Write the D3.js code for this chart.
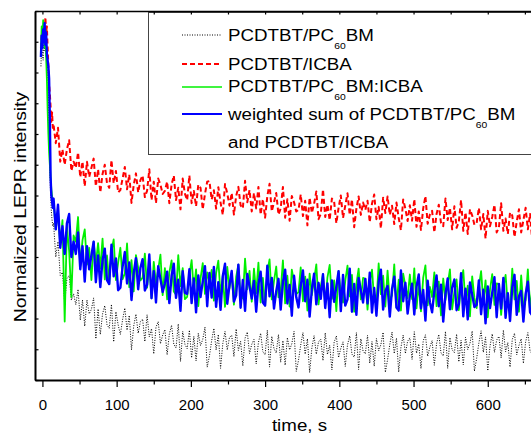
<!DOCTYPE html>
<html lang="en">
<head>
<meta charset="UTF-8">
<title>LEPR decay</title>
<script src="https://cdn.jsdelivr.net/npm/d3@7/dist/d3.min.js"></script>
<style>
body { margin: 0; background: #fff; }
svg text { font-family: Arial, "Liberation Sans", sans-serif; fill: #000; }
</style>
</head>
<body>
<svg width="531" height="436"></svg>
<script>
// sampling grid: 1 s steps during the light pulse, 3 s afterwards
var timeEarly = [-2, -1, 0, 1, 2, 3, 4, 5, 6, 7, 8, 9, 10, 11, 12, 13, 14];
var time = timeEarly.concat(d3.range(15, 661, 3));

var pc60bm = [1.02,1.10,1.06,1.04,1.12,1.07,1.11,1.05,1.08,1.00,0.92,0.80,0.68,0.60,0.55,0.52,0.50,
  .51,.40,.45,.34,.35,.25,.33,.34,.26,.28,
  .245,.295,.195,.26,.175,.26,.215,.23,.267,.134,
  .231,.148,.215,.242,.18,.168,.246,.124,.222,.18,
  .148,.196,.234,.162,.21,.098,.176,.214,.152,.19,
  .198,.125,.212,.14,.167,.085,.172,.19,.118,.146,
  .164,.082,.15,.178,.116,.104,.182,.06,.158,.116,
  .102,.162,.072,.142,.062,.152,.112,.132,.172,.042,
  .078,.128,.168,.098,.148,.038,.118,.158,.098,.138,
  .146,.076,.166,.096,.126,.046,.136,.156,.086,.116,
  .132,.052,.122,.152,.092,.082,.162,.042,.142,.102,
  .088,.148,.058,.128,.048,.138,.098,.118,.158,.028,
  .064,.114,.154,.084,.134,.024,.104,.144,.084,.124,
  .133,.063,.153,.083,.113,.033,.123,.143,.073,.103,
  .124,.044,.114,.144,.084,.074,.154,.034,.134,.094,
  .085,.145,.055,.125,.045,.135,.095,.115,.155,.025,
  .066,.116,.156,.086,.136,.026,.106,.146,.086,.126,
  .137,.067,.157,.087,.117,.037,.127,.147,.077,.107,
  .128,.048,.118,.148,.088,.078,.158,.038,.138,.098,
  .089,.149,.059,.129,.049,.139,.099,.119,.159,.029,
  .07,.12,.16,.09,.14,.03,.11,.15,.09,.13,
  .142,.072,.162,.092,.122,.042,.132,.152,.082,.112,
  .134,.054,.124,.154,.094,.084];

var icba = [1.08,1.12,1.15,1.10,1.16,1.12,1.18,1.13,1.15,1.08,1.02,0.96,0.93,0.89,0.84,0.87,0.82,
  .83,.77,.82,.71,.75,.70,.75,.78,.68,.71,
  .69,.74,.66,.71,.63,.71,.66,.69,.72,.63,
  .685,.61,.67,.70,.64,.625,.715,.64,.68,.61,
  .618,.655,.693,.62,.668,.576,.634,.672,.61,.65,
  .665,.595,.615,.685,.585,.645,.575,.655,.635,.605,
  .615,.645,.575,.635,.665,.585,.625,.555,.655,.605,
  .585,.665,.575,.615,.565,.635,.625,.555,.605,.645,
  .647,.587,.617,.557,.627,.577,.537,.637,.607,.567,
  .608,.538,.598,.628,.568,.558,.648,.578,.618,.548,
  .608,.558,.628,.538,.588,.528,.598,.638,.548,.578,
  .608,.538,.558,.628,.528,.588,.518,.598,.578,.548,
  .553,.603,.533,.583,.503,.593,.543,.573,.613,.523,
  .540,.620,.530,.570,.520,.590,.580,.510,.560,.600,
  .527,.567,.607,.537,.587,.497,.557,.597,.537,.577,
  .553,.583,.513,.573,.603,.523,.563,.493,.593,.543,
  .597,.537,.567,.507,.577,.527,.487,.587,.557,.517,
  .568,.518,.588,.498,.548,.488,.558,.598,.508,.538,
  .550,.480,.540,.570,.510,.500,.590,.520,.560,.490,
  .565,.495,.515,.585,.485,.545,.475,.555,.535,.505,
  .510,.560,.490,.540,.460,.550,.500,.530,.570,.480,
  .495,.575,.485,.525,.475,.545,.535,.465,.515,.555,
  .480,.520,.560,.490,.540,.450];

var mixed = [1.07,1.15,1.10,1.17,1.12,1.08,1.14,1.05,0.98,0.88,0.80,0.74,0.70,0.66,0.62,0.60,0.57,
  .58,.49,.55,.44,.52,.19,.50,.42,.27,.47,
  .45,.53,.37,.455,.49,.375,.43,.325,.45,.378,
  .445,.362,.46,.327,.405,.312,.42,.457,.325,.382,
  .43,.328,.346,.444,.302,.39,.288,.406,.365,.324,
  .333,.411,.30,.378,.266,.384,.312,.36,.408,.276,
  .364,.262,.35,.389,.288,.277,.406,.305,.364,.263,
  .27,.34,.39,.29,.36,.24,.33,.38,.28,.35,
  .318,.358,.258,.348,.388,.278,.338,.238,.368,.298,
  .345,.245,.335,.375,.275,.265,.395,.295,.355,.255,
  .362,.282,.382,.252,.332,.242,.352,.392,.262,.322,
  .369,.269,.289,.389,.249,.339,.239,.359,.319,.279,
  .286,.366,.256,.336,.226,.346,.276,.326,.376,.246,
  .304,.344,.244,.334,.374,.264,.324,.224,.354,.284,
  .252,.322,.372,.272,.342,.222,.312,.362,.262,.332,
  .329,.229,.319,.359,.259,.249,.379,.279,.339,.239,
  .356,.256,.276,.376,.236,.326,.226,.346,.306,.266,
  .343,.263,.363,.233,.313,.223,.333,.373,.243,.303,
  .270,.350,.240,.320,.210,.330,.260,.310,.360,.230,
  .287,.327,.227,.317,.357,.247,.307,.207,.337,.267,
  .234,.304,.354,.254,.324,.204,.294,.344,.244,.314,
  .312,.212,.302,.342,.242,.232,.362,.262,.322,.222,
  .340,.240,.260,.360,.220,.310];

var weighted = [1.05,1.12,1.08,1.14,1.10,1.16,1.09,1.13,1.06,1.04,1.02,0.98,0.85,0.66,0.60,0.58,0.56,
  .59,.49,.57,.43,.50,.41,.51,.54,.40,.45,
  .41,.48,.36,.435,.32,.435,.36,.405,.45,.318,
  .405,.302,.39,.427,.325,.312,.44,.337,.395,.292,
  .30,.368,.416,.314,.382,.26,.348,.396,.295,.364,
  .393,.291,.31,.408,.266,.354,.252,.37,.328,.286,
  .314,.352,.25,.339,.378,.267,.326,.225,.354,.283,
  .28,.36,.25,.33,.22,.34,.27,.32,.37,.24,
  .348,.268,.368,.238,.318,.228,.338,.378,.248,.308,
  .355,.255,.275,.375,.235,.325,.225,.345,.305,.265,
  .322,.222,.312,.352,.252,.242,.372,.272,.332,.232,
  .289,.329,.229,.319,.359,.249,.309,.209,.339,.269,
  .236,.306,.356,.256,.326,.206,.296,.346,.246,.316,
  .264,.344,.234,.314,.204,.324,.254,.304,.354,.224,
  .342,.242,.262,.362,.222,.312,.212,.332,.292,.252,
  .329,.249,.349,.219,.299,.209,.319,.359,.229,.289,
  .306,.206,.296,.336,.236,.226,.356,.256,.316,.216,
  .273,.313,.213,.303,.343,.233,.293,.193,.323,.253,
  .220,.290,.340,.240,.310,.190,.280,.330,.230,.300,
  .327,.227,.247,.347,.207,.297,.197,.317,.277,.237,
  .244,.324,.214,.294,.184,.304,.234,.284,.334,.204,
  .312,.232,.332,.202,.282,.192,.302,.342,.212,.272,
  .290,.190,.280,.320,.220,.210];

var xMajor = [0, 100, 200, 300, 400, 500, 600];
var xMinor = [50, 150, 250, 350, 450, 550, 650];
var yTicks = [0, 0.1, 0.2, 0.3, 0.4, 0.5, 0.6, 0.7, 0.8, 0.9, 1.0, 1.1, 1.2];

var series = [
    { values: pc60bm, color: '#000', width: 1, dash: '1,1.5', key: 1 },
    { values: icba, color: '#ff0000', width: 2, dash: '5,3', key: 1.8 },
    { values: mixed, color: '#00f000', width: 1.8, dash: null, key: 1.5 },
    { values: weighted, color: '#0000ff', width: 2.4, dash: null, key: 2 }
];

var svg = d3.select('svg');
var x = d3.scaleLinear().domain([-10, 700]).range([35, 562]);
var y = d3.scaleLinear().domain([0, 1.2]).range([380, 11]);

svg.append('defs').append('clipPath').attr('id', 'plot')
    .append('rect').attr('x', 35).attr('y', 11).attr('width', 527).attr('height', 369);

var line = d3.line()
    .x(function(d, i) { return x(time[i]); })
    .y(function(d) { return y(d); });

svg.append('g').attr('clip-path', 'url(#plot)')
    .selectAll('path')
    .data(series)
    .enter()
    .append('path')
    .attr('d', function(d) { return line(d.values.slice(0, time.length)); })
    .attr('fill', 'none')
    .attr('stroke', function(d) { return d.color; })
    .attr('stroke-width', function(d) { return d.width; })
    .attr('stroke-dasharray', function(d) { return d.dash; })
    .attr('stroke-linejoin', 'round');

// legend
var legend = [
    { parts: [['PCDTBT/PC', 0], ['60', 1], ['BM', 0]], base: 41, sample: 35, s: series[0] },
    { parts: [['PCDTBT/ICBA', 0]], base: 70, sample: 64, s: series[1] },
    { parts: [['PCDTBT/PC', 0], ['60', 1], ['BM:ICBA', 0]], base: 92, sample: 87, s: series[2] },
    { parts: [['weighted sum of PCDTBT/PC', 0], ['60', 1], ['BM', 0]], base: 120, sample: 114, s: series[3] },
    { parts: [['and PCDTBT/ICBA', 0]], base: 148, sample: null, s: null }
];

var lg = svg.append('g');
lg.append('rect').attr('x', 148.5).attr('y', 12.5).attr('width', 420).attr('height', 142)
    .attr('fill', '#fff').attr('stroke', '#444').attr('stroke-width', 1);

legend.forEach(function(e) {
    if (e.s) {
        lg.append('line').attr('x1', 182).attr('x2', 222).attr('y1', e.sample).attr('y2', e.sample)
            .attr('stroke', e.s.color).attr('stroke-width', e.s.key)
            .attr('stroke-dasharray', e.s.dash);
    }
    var t = lg.append('text')
        .attr('transform', 'translate(228,' + e.base + ') scale(1.15,1)')
        .attr('font-size', 16.3);
    var sub = false;
    e.parts.forEach(function(p) {
        var ts = t.append('tspan').text(p[0]);
        if (p[1] && !sub) { ts.attr('font-size', 9).attr('dy', 8.5); sub = true; }
        else if (!p[1] && sub) { ts.attr('dy', -8.5); sub = false; }
    });
});

// axes
function styleAxis(g, w) {
    g.select('.domain').attr('stroke-width', w);
    g.selectAll('.tick line').attr('stroke-width', 1.2);
}

var gx = svg.append('g').attr('transform', 'translate(0,380)')
    .call(d3.axisBottom(x).tickValues(xMajor).tickSize(7).tickSizeOuter(0).tickPadding(12));
styleAxis(gx, 2);
gx.selectAll('text').attr('font-size', 15)
    .attr('font-family', 'Arial, "Liberation Sans", sans-serif');

var gxm = svg.append('g').attr('transform', 'translate(0,380)')
    .call(d3.axisBottom(x).tickValues(xMinor).tickSize(4.5).tickFormat(''));
gxm.select('.domain').remove();
gxm.selectAll('.tick line').attr('stroke-width', 1.2);

var gt = svg.append('g').attr('transform', 'translate(0,11)')
    .call(d3.axisTop(x).tickValues(xMajor.concat(xMinor)).tickSize(-3.5).tickSizeOuter(0).tickFormat(''));
styleAxis(gt, 1.5);

var gy = svg.append('g').attr('transform', 'translate(35,0)')
    .call(d3.axisLeft(y).tickValues(yTicks).tickSize(-3.5).tickSizeOuter(0).tickFormat(''));
styleAxis(gy, 2);

svg.append('text')
    .attr('transform', 'translate(299.5,431) scale(1.15,1)')
    .attr('text-anchor', 'middle').attr('font-size', 16.3)
    .text('time, s');

svg.append('text')
    .attr('transform', 'translate(25.5,207) rotate(-90) scale(1.14,1)')
    .attr('text-anchor', 'middle').attr('font-size', 17)
    .text('Normalized LEPR intensity');
</script>
</body>
</html>
